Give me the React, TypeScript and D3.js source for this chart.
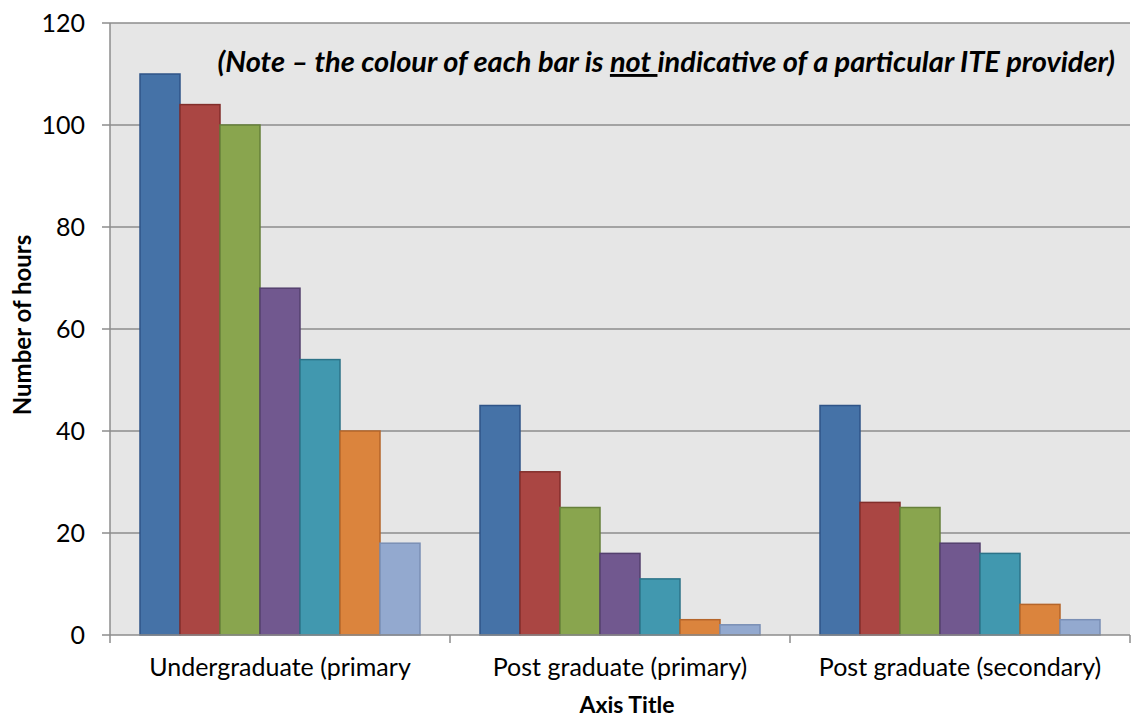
import { useRef, useEffect } from "react";
import * as d3 from "d3";

// categorias del eje x
const categories = ["Undergraduate (primary", "Post graduate (primary)", "Post graduate (secondary)"];
// un array por proveedor (7 series)
const provider1 = [110, 45, 45];
const provider2 = [104, 32, 26];
const provider3 = [100, 25, 25];
const provider4 = [68, 16, 18];
const provider5 = [54, 11, 16];
const provider6 = [40, 3, 6];
const provider7 = [18, 2, 3];
const yTicks = [0, 20, 40, 60, 80, 100, 120];

const series = [provider1, provider2, provider3, provider4, provider5, provider6, provider7];
const fills = ["#4572A7", "#AA4643", "#89A54E", "#71588F", "#4198AF", "#DB843D", "#93A9CF"];
const strokes = ["#2F5488", "#822E2B", "#66803A", "#54406E", "#2C7388", "#B5652A", "#7A8FB5"];

const App = () => {
  const svgRef = useRef<SVGSVGElement>(null);

  useEffect(() => {
    const svg = d3.select(svgRef.current);
    svg.selectAll("*").remove();

    const width = 1132;
    const height = 718;
    const left = 110;
    const right = 1130;
    const top = 23;
    const bottom = 635;
    const font = "Lato, 'Open Sans', sans-serif";

    // Escala x por categoria
    const x0 = d3.scaleBand().domain(categories).range([left, right]).paddingInner(0).paddingOuter(0);
    // Escala dentro de cada grupo (gap 150%)
    const x1 = d3
      .scaleBand<number>()
      .domain(d3.range(series.length))
      .range([30, x0.bandwidth() - 30]);
    const y = d3.scaleLinear().domain([0, 120]).range([bottom, top]);

    // fondo del area de grafica
    svg
      .append("rect")
      .attr("x", left)
      .attr("y", top)
      .attr("width", right - left)
      .attr("height", bottom - top)
      .attr("fill", "#E6E6E6");

    // lineas de cuadricula
    svg
      .selectAll("line.grid")
      .data(yTicks.filter((d) => d > 0))
      .enter()
      .append("line")
      .attr("x1", left - 8)
      .attr("x2", right)
      .attr("y1", (d) => y(d))
      .attr("y2", (d) => y(d))
      .attr("stroke", "#8C8C8C")
      .attr("stroke-width", 1.5);

    // etiquetas eje y
    svg
      .selectAll("text.ytick")
      .data(yTicks)
      .enter()
      .append("text")
      .attr("x", 85)
      .attr("y", (d) => y(d))
      .attr("dy", "0.36em")
      .attr("text-anchor", "end")
      .attr("font-family", font)
      .attr("font-size", 25)
      .attr("fill", "#000")
      .text((d) => d);

    // barras
    series.forEach((vals, s) => {
      svg
        .append("g")
        .selectAll("rect")
        .data(vals)
        .enter()
        .append("rect")
        .attr("x", (d, i) => (x0(categories[i]) as number) + (x1(s) as number))
        .attr("y", (d) => y(d))
        .attr("width", x1.bandwidth())
        .attr("height", (d) => bottom - y(d))
        .attr("fill", fills[s])
        .attr("stroke", strokes[s])
        .attr("stroke-width", 1.5);
    });

    // ejes
    svg
      .append("line")
      .attr("x1", left)
      .attr("x2", left)
      .attr("y1", top)
      .attr("y2", bottom)
      .attr("stroke", "#8C8C8C")
      .attr("stroke-width", 1.5);
    svg
      .append("line")
      .attr("x1", left - 8)
      .attr("x2", right)
      .attr("y1", bottom)
      .attr("y2", bottom)
      .attr("stroke", "#8C8C8C")
      .attr("stroke-width", 1.5);
    svg
      .selectAll("line.xtick")
      .data([...categories.map((c) => x0(c) as number), right])
      .enter()
      .append("line")
      .attr("x1", (d) => d)
      .attr("x2", (d) => d)
      .attr("y1", bottom)
      .attr("y2", bottom + 8)
      .attr("stroke", "#8C8C8C")
      .attr("stroke-width", 1.5);

    // etiquetas categorias
    svg
      .selectAll("text.xlab")
      .data(categories)
      .enter()
      .append("text")
      .attr("x", (d) => (x0(d) as number) + x0.bandwidth() / 2)
      .attr("y", 676)
      .attr("text-anchor", "middle")
      .attr("font-family", font)
      .attr("font-size", 25)
      .attr("fill", "#000")
      .text((d) => d);

    // titulos de ejes
    svg
      .append("text")
      .attr("x", 627)
      .attr("y", 713)
      .attr("text-anchor", "middle")
      .attr("font-family", font)
      .attr("font-weight", "bold")
      .attr("font-size", 23)
      .text("Axis Title");
    svg
      .append("text")
      .attr("transform", `translate(31,325) rotate(-90)`)
      .attr("text-anchor", "middle")
      .attr("font-family", font)
      .attr("font-weight", "bold")
      .attr("font-size", 24)
      .text("Number of hours");

    // nota
    const note = svg
      .append("text")
      .attr("x", 1115)
      .attr("y", 72)
      .attr("text-anchor", "end")
      .attr("font-family", font)
      .attr("font-weight", "bold")
      .attr("font-style", "italic")
      .attr("font-size", 29)
      .attr("fill", "#000");
    note.append("tspan").text("(Note \u2013 the colour of each bar is ");
    note.append("tspan").attr("text-decoration", "underline").text("not ");
    note.append("tspan").text("indicative of a particular ITE provider)");

    svg.attr("width", width).attr("height", height);
  }, []);

  return (
    <div style={{ position: "absolute", left: 0, top: 0 }}>
      <svg ref={svgRef} width={1132} height={718} style={{ display: "block" }}></svg>
    </div>
  );
};

export default App;
